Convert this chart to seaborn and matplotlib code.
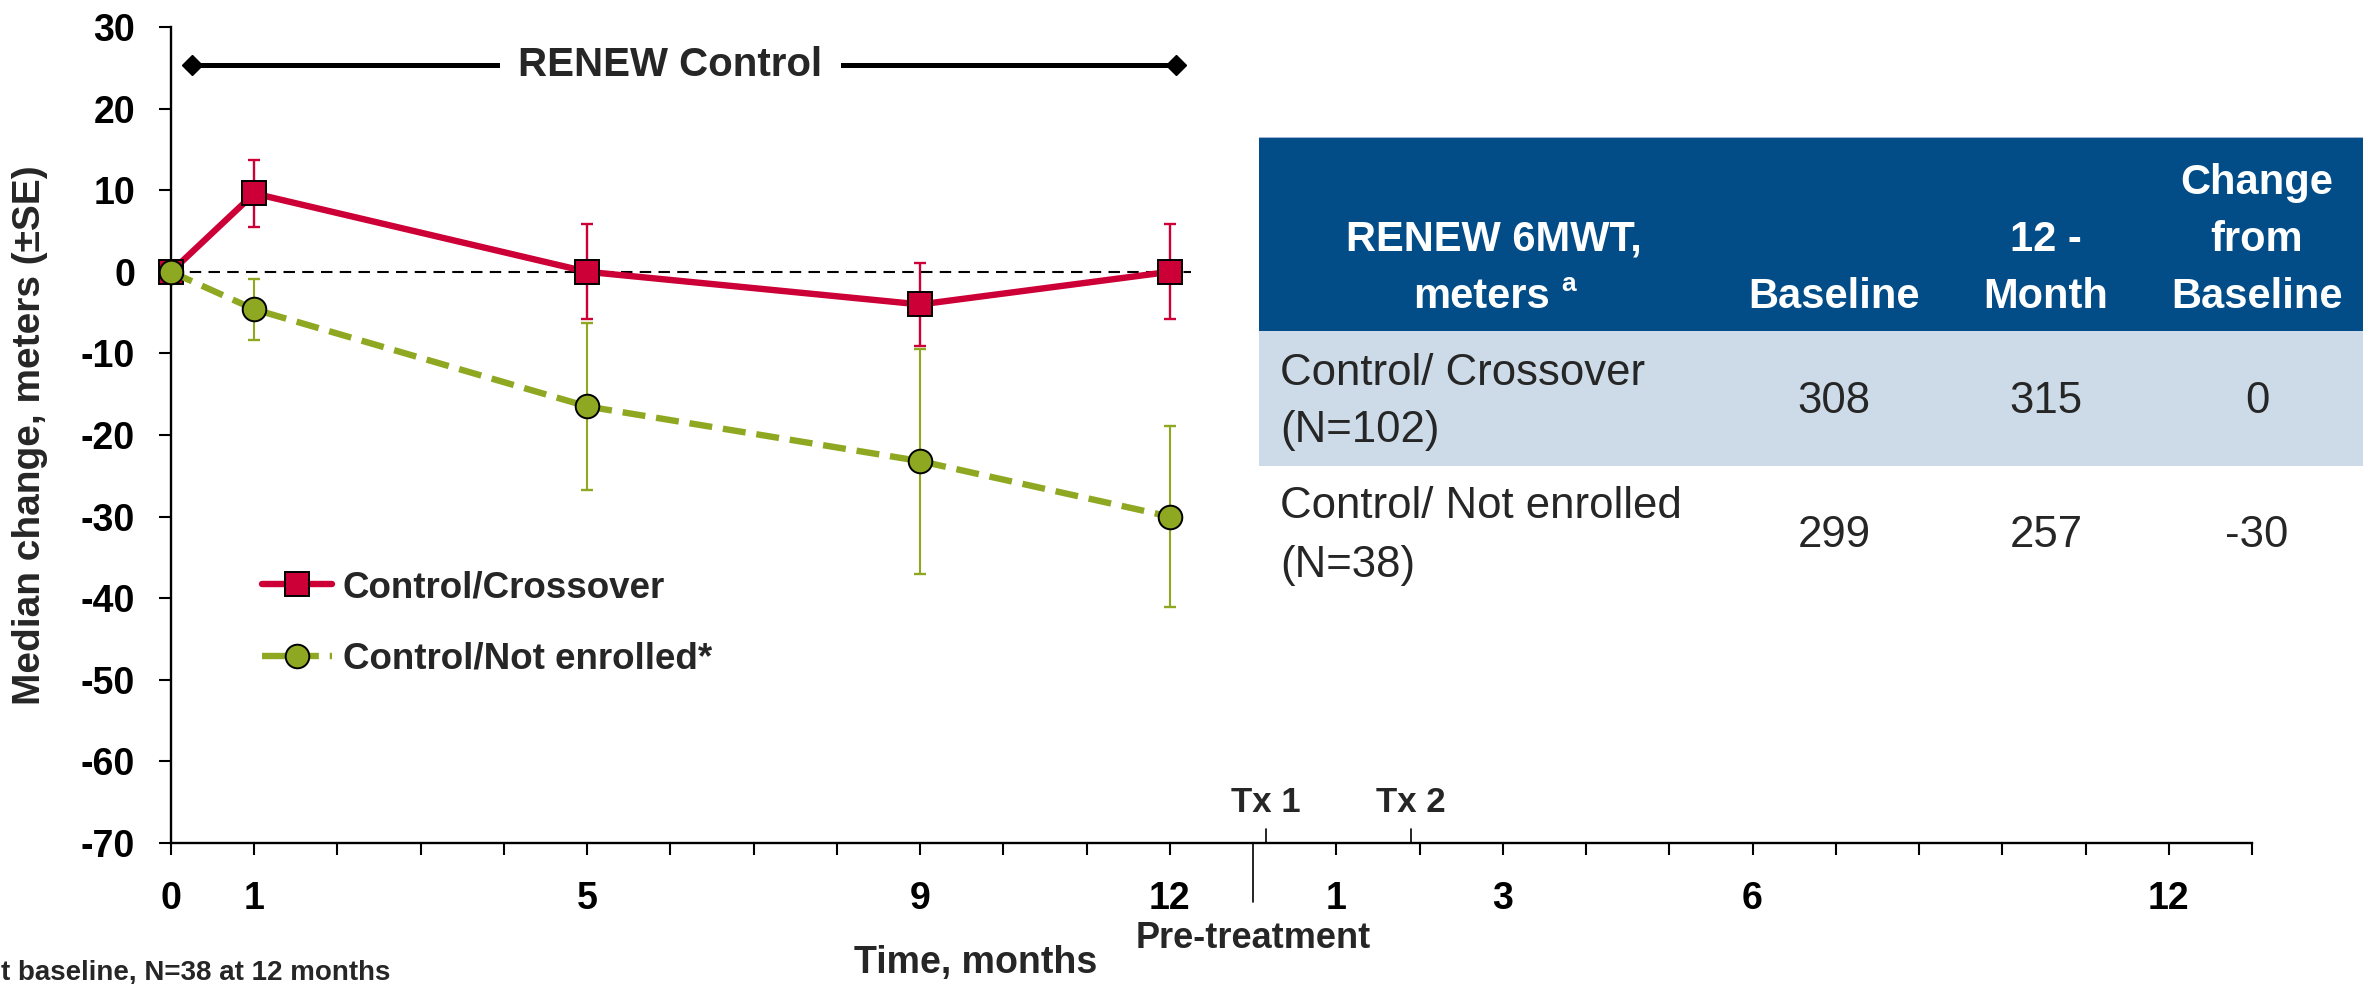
import numpy as np
import pandas as pd
import matplotlib
matplotlib.use('Agg')
import matplotlib.pyplot as plt
from matplotlib.lines import Line2D
from matplotlib.patches import Rectangle
import seaborn as sns

# --- chart values (median change in 6MWT, meters, +/- SE) ---
visit_months = [0, 1, 5, 9, 12]
crossover_median = [0, 9.6, 0, -4.0, 0]
crossover_se = [0, 4.1, 5.8, 5.1, 5.8]
not_enrolled_median = [0, -4.6, -16.5, -23.2, -30.0]
not_enrolled_se = [0, 3.7, 10.2, 13.8, 11.1]
series_names = ['Control/Crossover', 'Control/Not enrolled*']

# x axis: RENEW months 0..12, a break, then post-treatment months
pre_labels = {0: '0', 1: '1', 5: '5', 9: '9', 12: '12'}
post_month_labels = ['1', '3', '6', '12']
post_slots = [14, 16, 19, 24]
break_slot = 13
last_slot = 25
tx_labels = ['Tx 1', 'Tx 2']
tx_slots = [13.15, 14.9]

# table values
table_header = [['RENEW 6MWT,', 'meters'], ['Baseline'], ['12 -', 'Month'],
                ['Change', 'from', 'Baseline']]
table_rows = [['Control/ Crossover', '(N=102)'], ['Control/ Not enrolled', '(N=38)']]
baseline_6mwt = [308, 299]
month12_6mwt = [315, 257]
change_6mwt = [0, -30]

RED = '#CC0036'
GREEN = '#8FA821'
BLUE = '#024C88'
LIGHT = '#CDDBE8'

sns.set_theme(style='ticks')
plt.rcParams['font.family'] = ['Liberation Sans', 'DejaVu Sans']
plt.rcParams['axes.unicode_minus'] = False

W, H = 2374, 984
fig = plt.figure(figsize=(W / 100, H / 100), dpi=100)


def fx(px):
    return px / W


def fy(py):
    return 1 - py / H


ax = fig.add_axes([fx(171), fy(843), (2252 - 171) / W, (843 - 27) / H])
ax.set_facecolor('white')

df = pd.DataFrame({'month': visit_months,
                   'crossover': crossover_median,
                   'not_enrolled': not_enrolled_median})

# error bars first so markers sit on top
ax.errorbar(visit_months[1:], crossover_median[1:], yerr=crossover_se[1:], fmt='none',
            ecolor=RED, elinewidth=1.7, capsize=4.5, capthick=1.7, zorder=2)
ax.errorbar(visit_months[1:], not_enrolled_median[1:], yerr=not_enrolled_se[1:], fmt='none',
            ecolor=GREEN, elinewidth=1.5, capsize=4.5, capthick=1.7, zorder=2)

# zero reference line
ax.hlines(0, 0, 12.25, colors='black', linestyles=(0, (5.5, 3.5)), lw=1.5, zorder=2.5)

LW = 4.6
MS = 17
sns.lineplot(data=df, x='month', y='crossover', ax=ax, color=RED, linewidth=LW,
             marker='s', markersize=MS, markeredgecolor='black', markeredgewidth=1.4,
             clip_on=False, zorder=4, legend=False)
sns.lineplot(data=df, x='month', y='not_enrolled', ax=ax, color=GREEN, linewidth=LW,
             linestyle=(0, (3.6, 1.7)), marker='o', markersize=MS, markeredgecolor='black',
             markeredgewidth=1.4, clip_on=False, zorder=5, legend=False)

# RENEW Control span
ax.plot([0.25, 12.07], [25.4, 25.4], color='black', lw=3.6, marker='D', markersize=10,
        clip_on=False, zorder=3)
ax.text(6.0, 25.4, 'RENEW Control', ha='center', va='center', fontsize=29, fontweight='bold',
        bbox=dict(boxstyle='square,pad=0.45', fc='white', ec='none'), zorder=3.5)

# axes styling
ax.set_xlim(0, last_slot)
ax.set_ylim(-70, 30)
slots = [i for i in range(last_slot + 1) if i != break_slot]
labels = {**pre_labels, **dict(zip(post_slots, post_month_labels))}
ax.set_xticks(slots)
ax.set_xticklabels([labels.get(s, '') for s in slots])
ax.set_yticks(np.arange(-70, 31, 10))
ax.tick_params(axis='x', direction='out', length=8.6, width=1.5, pad=19, labelsize=27,
               colors='black')
ax.tick_params(axis='y', direction='out', length=9, width=1.5, pad=17, labelsize=27,
               colors='black')
for t in ax.get_xticklabels() + ax.get_yticklabels():
    t.set_fontweight('bold')
for side in ['top', 'right']:
    ax.spines[side].set_visible(False)
for side in ['left', 'bottom']:
    ax.spines[side].set_linewidth(1.7)
    ax.spines[side].set_color('black')
ax.set_xlabel('')
ax.set_ylabel('Median change, meters (±SE)', fontsize=28, fontweight='bold', va='center')
ax.yaxis.set_label_coords((30 - 171) / 2081, 0.5)

xt = ax.get_xaxis_transform()
# break between RENEW and post-treatment
ax.plot([break_slot, break_slot], [0, (843 - 902) / 816], transform=xt, color='black',
        lw=1.2, clip_on=False)
for lab, s in zip(tx_labels, tx_slots):
    ax.plot([s, s], [0, 14 / 816], transform=xt, color='black', lw=1.2, clip_on=False)
    ax.text(s, (843 - 802) / 816, lab, transform=xt, ha='center', va='center',
            fontsize=25, fontweight='bold')
ax.text(break_slot, (843 - 939) / 816, 'Pre-treatment', transform=xt, ha='center',
        va='center', fontsize=26, fontweight='bold')
fig.text(fx(976), fy(963), 'Time, months', ha='center', va='center', fontsize=27,
         fontweight='bold')
fig.text(fx(1), fy(980), 't baseline, N=38 at 12 months', ha='left', va='baseline',
         fontsize=20, fontweight='bold')

# legend
handles = [Line2D([], [], color=RED, lw=LW, marker='s', markersize=MS,
                  markeredgecolor='black', markeredgewidth=1.4),
           Line2D([], [], color=GREEN, lw=LW, linestyle=(0, (3.6, 1.7)), marker='o',
                  markersize=MS, markeredgecolor='black', markeredgewidth=1.4)]
ax.legend(handles, series_names, loc='upper left', bbox_to_anchor=(fx(262), fy(570)),
          bbox_transform=fig.transFigure, frameon=False, borderpad=0, borderaxespad=0,
          handlelength=1.9, handletextpad=0.3, labelspacing=1.0,
          prop={'size': 26.5, 'weight': 'bold'})

# table
tax = fig.add_axes([fx(1259), fy(603), (2363 - 1259) / W, (603 - 137) / H])
tax.set_xlim(1259, 2363)
tax.set_ylim(603, 137)
tax.axis('off')
tax.add_patch(Rectangle((1259, 137), 1104, 194, fc=BLUE, ec='none'))
tax.add_patch(Rectangle((1259, 331), 1104, 135, fc=LIGHT, ec='none'))
tax.plot([1259, 2363], [137, 137], color='#9DB3CF', lw=1.5)

col_x = [1494, 1834, 2046, 2257]
header_baselines = [308, 251, 194]
for cx, lines in zip(col_x, table_header):
    for i, line in enumerate(reversed(lines)):
        if line == 'meters':
            tax.text(1550, header_baselines[i], line, ha='right', va='baseline',
                     fontsize=30, fontweight='bold', color='white')
            tax.text(1561, 291, 'a', ha='left', va='baseline', fontsize=19,
                     fontweight='bold', color='white')
        else:
            tax.text(cx, header_baselines[i], line, ha='center', va='baseline',
                     fontsize=30, fontweight='bold', color='white')

row_baselines = [(385, 442, 413), (518, 577, 547)]
for r, (lines, (b1, b2, bv)) in enumerate(zip(table_rows, row_baselines)):
    tax.text(1280, b1, lines[0], ha='left', va='baseline', fontsize=31.5)
    tax.text(1280, b2, lines[1], ha='left', va='baseline', fontsize=31.5)
    for cx, val in zip(col_x[1:], [baseline_6mwt[r], month12_6mwt[r], change_6mwt[r]]):
        tax.text(cx, bv, str(val), ha='center', va='baseline', fontsize=31.5)

fig.savefig('out.png', dpi=100)
